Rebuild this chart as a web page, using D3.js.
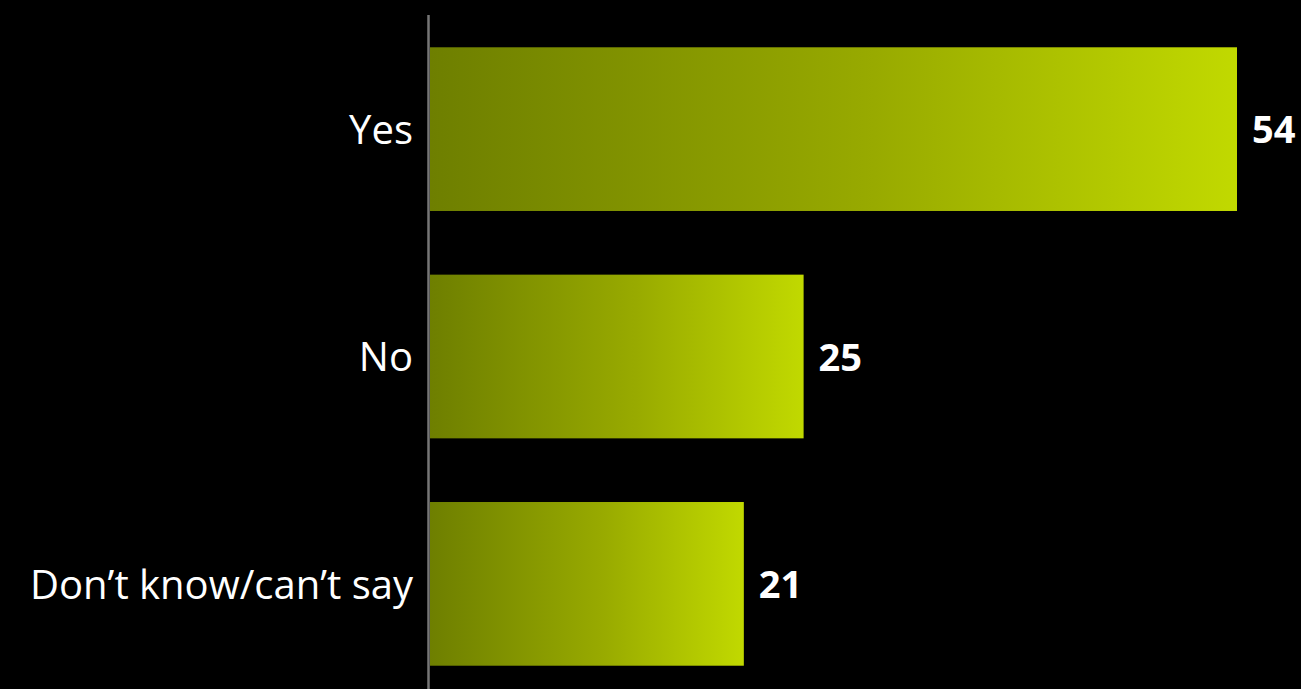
<!DOCTYPE html>
<html>
<head>
<meta charset="utf-8">
<script src="https://cdn.jsdelivr.net/npm/d3@7"></script>
<style>
  html, body { margin: 0; padding: 0; background: #000; }
  svg { display: block; }
</style>
</head>
<body>
<div id="grafica"></div>
<script>
// datos
categorias = ['Yes', 'No', 'Don\u2019t know/can\u2019t say']
valores = [54, 25, 21]

ancho_total = 1301
alto_total = 689

svg = d3.select('#grafica')
  .append('svg')
  .attr('width', ancho_total)
  .attr('height', alto_total)
  .style('background', '#000')

// gradiente de cada barra
defs = svg.append('defs')
grad = defs.append('linearGradient')
  .attr('id', 'grad')
  .attr('x1', '0%').attr('x2', '100%')
  .attr('y1', '0%').attr('y2', '0%')
grad.append('stop').attr('offset', '0%').attr('stop-color', '#6e7f00')
grad.append('stop').attr('offset', '55%').attr('stop-color', '#98aa00')
grad.append('stop').attr('offset', '100%').attr('stop-color', '#c1d900')

x = d3.scaleLinear()
  .domain([0, 54])
  .range([430, 1237])

y = d3.scaleBand()
  .domain(categorias)
  .range([20, 693])
  .paddingInner(0.28)
  .paddingOuter(0.12)

datos = categorias.map((c, i) => ({ cat: c, val: valores[i] }))

svg.selectAll('rect.bar')
  .data(datos)
  .enter()
  .append('rect')
  .attr('class', 'bar')
  .attr('x', x(0))
  .attr('y', (d) => y(d.cat))
  .attr('width', (d) => x(d.val) - x(0))
  .attr('height', y.bandwidth())
  .attr('fill', 'url(#grad)')

// eje vertical
svg.append('line')
  .attr('x1', 428.5).attr('x2', 428.5)
  .attr('y1', 15).attr('y2', alto_total)
  .attr('stroke', '#767676')
  .attr('stroke-width', 2.5)

// etiquetas de categoria
svg.selectAll('text.cat')
  .data(datos)
  .enter()
  .append('text')
  .attr('class', 'cat')
  .attr('x', 413)
  .attr('y', (d) => y(d.cat) + y.bandwidth() / 2)
  .attr('dy', '0.37em')
  .attr('text-anchor', 'end')
  .attr('font-family', 'Open Sans')
  .attr('font-size', '40px')
  .attr('fill', '#fff')
  .text((d) => d.cat)

// valores
svg.selectAll('text.val')
  .data(datos)
  .enter()
  .append('text')
  .attr('class', 'val')
  .attr('x', (d) => x(d.val) + 15)
  .attr('y', (d) => y(d.cat) + y.bandwidth() / 2)
  .attr('dy', '0.37em')
  .attr('font-family', 'Open Sans')
  .attr('font-weight', 'bold')
  .attr('font-size', '38px')
  .attr('fill', '#fff')
  .text((d) => d.val)
</script>
</body>
</html>
